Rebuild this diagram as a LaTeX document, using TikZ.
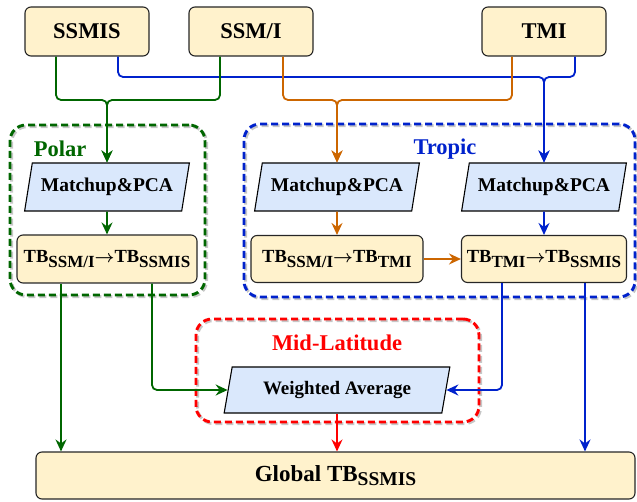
\documentclass[tikz,border=0pt]{standalone}
\usepackage{fontspec}
\setmainfont{Liberation Serif}
\usepackage{amsmath}
\usetikzlibrary{arrows.meta,shapes.geometric}
\definecolor{cgreen}{HTML}{006600}
\definecolor{cblue}{HTML}{0022CC}
\definecolor{corange}{HTML}{CC6600}
\definecolor{cred}{HTML}{FF0000}
\definecolor{yfill}{HTML}{FFF2CC}
\definecolor{bfill}{HTML}{DAE8FC}
\newcommand\lowsub[2]{\raisebox{-4.5pt}{\fontsize{#1}{#1}\selectfont #2}}
\newcommand\fs[1]{\fontsize{#1}{#1}\selectfont\bfseries}
\newcommand\rarr{\ensuremath{\boldsymbol{\rightarrow}}}
\begin{document}
\begin{tikzpicture}[x=1pt,y=-1pt,
  ybox/.style={draw=black!85, fill=yfill, line width=1.1pt, rounded corners=6pt, inner sep=0pt},
  pbox/.style={trapezium, trapezium left angle=69, trapezium right angle=111, trapezium stretches=true,
     draw=black, fill=bfill, line width=1.1pt, inner sep=0pt, minimum height=48pt, minimum width=165pt},
  groupbox/.style={draw, line width=2.9pt, dash pattern=on 7pt off 4pt, rounded corners=16pt, inner sep=0pt,
     preaction={draw=black!22, line width=2.9pt, dash pattern=on 7pt off 4pt,
       transform canvas={shift={(1.6pt,-1.6pt)}}}},
  glabel/.style={font=\fs{22.5}, inner sep=0pt},
  conn/.style={line width=1.8pt, rounded corners=5pt, -{Stealth[length=12pt,width=11pt,inset=4pt]}}
]
\useasboundingbox (0,0) rectangle (637,502);

% group boxes
\node[groupbox, draw=cgreen, minimum width=195pt, minimum height=170pt] (polar) at (107.5,210) {};
\node[groupbox, draw=cblue, minimum width=391pt, minimum height=173pt] (tropic) at (439.5,210.5) {};
\node[groupbox, draw=cred, minimum width=283pt, minimum height=103pt] (midlat) at (337.5,370.5) {};
\node[glabel, text=cgreen] (polarlab) at (60,149) {Polar};
\node[glabel, text=cblue] (tropiclab) at (445,149) {Tropic};
\node[glabel, text=cred] (midlab) at (337,343) {Mid-Latitude};

% top sources
\node[ybox, minimum width=124pt, minimum height=49pt, font=\fs{22.5}] (ssmis) at (87,31.5) {SSMIS};
\node[ybox, minimum width=124pt, minimum height=49pt, font=\fs{22.5}] (ssmi) at (251,31.5) {SSM/I};
\node[ybox, minimum width=124pt, minimum height=49pt, font=\fs{22.5}] (tmi) at (544,31.5) {TMI};

% matchup
\node[pbox, font=\fs{19.5}] (mpca1) at (107,187) {Matchup\&PCA};
\node[pbox, font=\fs{19.5}] (mpca2) at (337,187) {Matchup\&PCA};
\node[pbox, font=\fs{19.5}] (mpca3) at (544,187) {Matchup\&PCA};

% TB conversions
\node[ybox, minimum width=180pt, minimum height=48pt, font=\fs{18.5}] (tb1) at (107,259) {TB\lowsub{17}{SSM/I}\rarr TB\lowsub{17}{SSMIS}};
\node[ybox, minimum width=172pt, minimum height=47pt, font=\fs{18.5}] (tb2) at (337,259) {TB\lowsub{17}{SSM/I}\rarr TB\lowsub{17}{TMI}};
\node[ybox, minimum width=165pt, minimum height=47pt, font=\fs{18.5}] (tb3) at (544,259) {TB\lowsub{17}{TMI}\rarr TB\lowsub{17}{SSMIS}};

% weighted average
\node[pbox, trapezium left angle=72, trapezium right angle=108, minimum width=226pt, minimum height=46pt, font=\fs{19}] (wavg) at (337,390) {Weighted Average};

% global
\node[ybox, minimum width=599pt, minimum height=47pt, font=\fs{23}] (global) at (335.5,475.5) {Global TB\lowsub{19.5}{SSMIS}};

% joins
\coordinate (gj) at (mpca1.north |- 0,100);
\coordinate (bj) at (mpca3.north |- 0,77);
\coordinate (oj) at (mpca2.north |- 0,100);

% top connectors
\draw[conn, cblue] ([xshift=31pt]ssmis.south) |- (bj) -- (mpca3.north);
\draw[conn, cblue] ([xshift=31pt]tmi.south) |- (bj) -- (mpca3.north);
\draw[conn, cgreen] ([xshift=-31pt]ssmis.south) |- (gj) -- (mpca1.north);
\draw[conn, cgreen] ([xshift=-31pt]ssmi.south) |- (gj) -- (mpca1.north);
\draw[conn, corange] ([xshift=32pt]ssmi.south) |- (oj) -- (mpca2.north);
\draw[conn, corange] ([xshift=-32pt]tmi.south) |- (oj) -- (mpca2.north);

% inner connectors
\draw[conn, cgreen] (mpca1.south) -- (tb1.north);
\draw[conn, corange] (mpca2.south) -- (tb2.north);
\draw[conn, cblue] (mpca3.south) -- (tb3.north);
\draw[conn, corange] (tb2.east) -- (tb3.west);

% bottom connectors
\draw[conn, cgreen] ([xshift=-46pt]tb1.south) -- ([xshift=-46pt]tb1.south |- global.north);
\draw[conn, cgreen] ([xshift=45pt]tb1.south) |- (wavg.left side);
\draw[conn, cblue] ([xshift=-42pt]tb3.south) |- (wavg.right side);
\draw[conn, cblue] ([xshift=41pt]tb3.south) -- ([xshift=41pt]tb3.south |- global.north);
\draw[conn, cred] (wavg.south) -- (wavg.south |- global.north);
\end{tikzpicture}
\end{document}
